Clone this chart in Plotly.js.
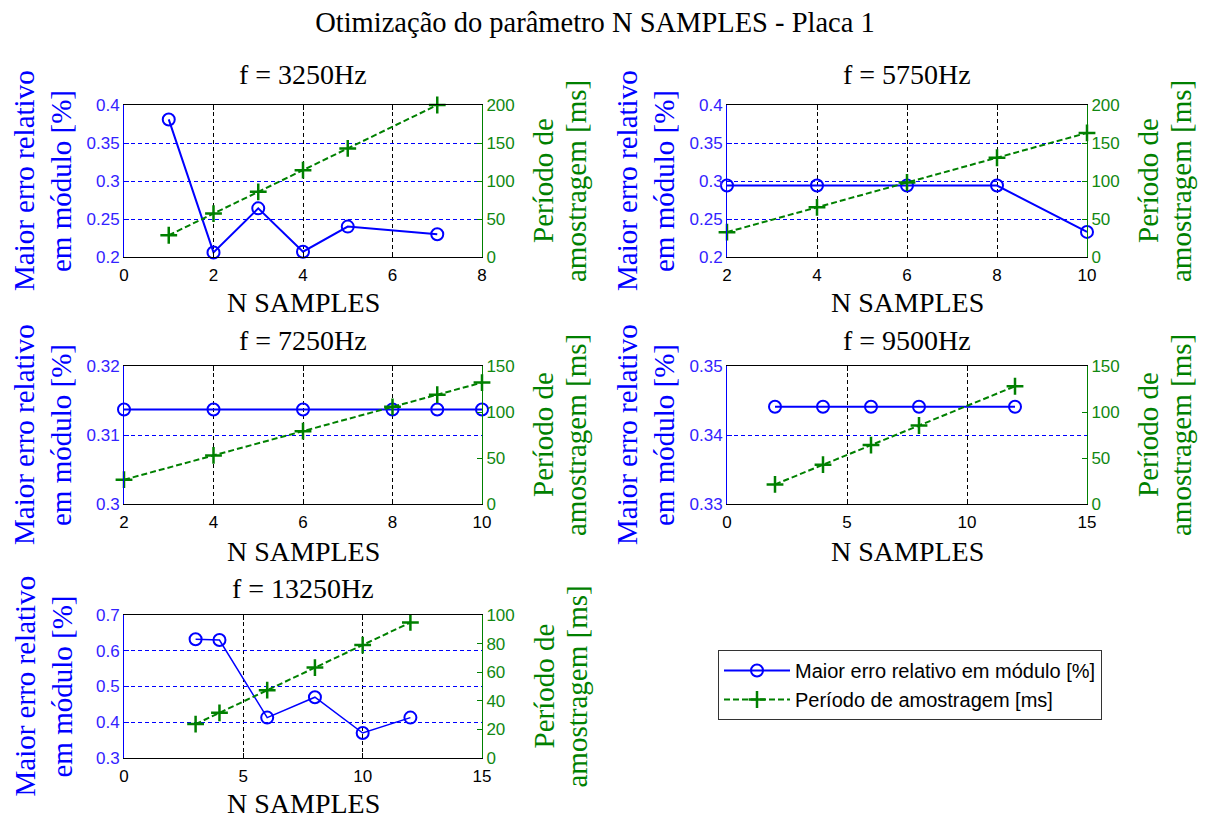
<!DOCTYPE html>
<html>
<head>
<meta charset="utf-8">
<script src="https://cdn.plot.ly/plotly-3.0.1.min.js"></script>
<style>html,body{margin:0;padding:0;background:#fff;}#chart{width:1205px;height:818px;}</style>
</head>
<body>
<div id="chart"></div>
<script>
// ---------- DATA ----------
const mainTitle = 'Otimização do parâmetro N SAMPLES - Placa 1';
const xTitle = 'N SAMPLES';
const errName = 'Maior erro relativo em módulo [%]';
const perName = 'Período de amostragem [ms]';
const errAxisLines = ['Maior erro relativo', 'em módulo [%]'];
const perAxisLines = ['Período de', 'amostragem [ms]'];

const titles = ['f = 3250Hz', 'f = 5750Hz', 'f = 7250Hz', 'f = 9500Hz', 'f = 13250Hz'];

const n1 = [1, 2, 3, 4, 5, 7];
const err1 = [0.381, 0.206, 0.264, 0.207, 0.240, 0.230];
const per1 = [28.6, 57.1, 85.7, 114.3, 142.9, 200];

const n2 = [2, 4, 6, 8, 10];
const err2 = [0.294, 0.294, 0.294, 0.294, 0.233];
const per2 = [32.7, 65.3, 98, 130.6, 163.3];

const n3 = [2, 4, 6, 8, 9, 10];
const err3 = [0.3137, 0.3137, 0.3137, 0.3137, 0.3137, 0.3137];
const per3 = [26.4, 52.8, 79.2, 105.6, 118.8, 132];

const n4 = [2, 4, 6, 8, 12];
const err4 = [0.3441, 0.3441, 0.3441, 0.3441, 0.3441];
const per4 = [21.3, 42.7, 64, 85.3, 128];

const n5 = [3, 4, 6, 8, 10, 12];
const err5 = [0.632, 0.630, 0.413, 0.470, 0.370, 0.413];
const per5 = [23.7, 31.6, 47.4, 63.2, 79, 94.8];

// axis ranges / tick steps
const xRanges = [[0, 8], [2, 10], [2, 10], [0, 15], [0, 15]];
const xSteps = [2, 2, 2, 5, 5];
const errRanges = [[0.2, 0.4], [0.2, 0.4], [0.3, 0.32], [0.33, 0.35], [0.3, 0.7]];
const errSteps = [0.05, 0.05, 0.01, 0.01, 0.1];
const perRanges = [[0, 200], [0, 200], [0, 150], [0, 150], [0, 100]];
const perSteps = [50, 50, 50, 50, 20];

// ---------- LAYOUT (pixel boxes of plot areas) ----------
const W = 1205, H = 818;
const boxes = [
  {l: 124, r: 482, t: 105, b: 257, titleY: 75, xtY: 302},
  {l: 727, r: 1087, t: 105, b: 257, titleY: 75, xtY: 302},
  {l: 124, r: 482, t: 366, b: 504, titleY: 340, xtY: 551},
  {l: 727, r: 1087, t: 366, b: 504, titleY: 340, xtY: 551},
  {l: 124, r: 482, t: 615, b: 758, titleY: 588, xtY: 803}
];
const BLUE = '#0000ff', GREEN = '#008000';
const tickFont = 'Liberation Sans, Arial, sans-serif';
const serif = 'Liberation Serif, Times New Roman, serif';
const TICK = 17;

const series = [[n1, err1, per1], [n2, err2, per2], [n3, err3, per3], [n4, err4, per4], [n5, err5, per5]];

const data = [];
const layout = {
  width: W, height: H,
  margin: {l: 0, r: 0, t: 0, b: 0},
  paper_bgcolor: '#fff', plot_bgcolor: 'rgba(0,0,0,0)',
  showlegend: true,
  title: {text: mainTitle, font: {family: serif, size: 28.5, color: '#000'},
          x: 595 / W, xanchor: 'center', y: 1 - 22 / H, yanchor: 'middle', xref: 'paper', yref: 'paper'},
  legend: {x: 718 / W, y: 1 - 650 / H, xanchor: 'left', yanchor: 'top',
           bordercolor: '#333', borderwidth: 1, bgcolor: '#fff',
           font: {family: tickFont, size: 20, color: '#000'}, itemwidth: 66, traceorder: 'normal'},
  annotations: []
};

function ann(text, xpx, ypx, size, color, angle) {
  return {text: text, xref: 'paper', yref: 'paper', x: xpx / W, y: 1 - ypx / H,
          xanchor: 'center', yanchor: 'middle', showarrow: false, textangle: angle || 0,
          font: {family: serif, size: size, color: color}};
}

for (let i = 0; i < 5; i++) {
  const k = i + 1;
  const xs = k === 1 ? '' : String(k);
  const xa = 'x' + xs, ya = 'y' + xs, yb = 'y' + (k + 5);
  const bx = boxes[i];
  const [nn, ee, pp] = series[i];

  layout['xaxis' + xs] = {
    domain: [bx.l / W, bx.r / W], anchor: ya,
    range: xRanges[i], tick0: 0, dtick: xSteps[i],
    showline: true, linecolor: '#000', linewidth: 1, mirror: 'ticks',
    ticks: 'inside', ticklen: 5, tickcolor: '#000', ticklabelstandoff: 3,
    showgrid: true, gridcolor: '#000', griddash: '4px,3px', gridwidth: 1,
    zeroline: false, tickfont: {family: tickFont, size: TICK, color: '#000'}
  };
  layout['yaxis' + xs] = {
    domain: [1 - bx.b / H, 1 - bx.t / H], anchor: xa,
    range: errRanges[i], tick0: 0, dtick: errSteps[i],
    showline: true, linecolor: BLUE, linewidth: 1,
    ticks: 'inside', ticklen: 5, tickcolor: BLUE,
    showgrid: true, gridcolor: BLUE, griddash: '4px,3px', gridwidth: 1,
    zeroline: false, tickfont: {family: tickFont, size: TICK, color: '#3322ff'}
  };
  layout['yaxis' + (k + 5)] = {
    overlaying: ya, side: 'right', anchor: xa,
    range: perRanges[i], tick0: 0, dtick: perSteps[i],
    showline: true, linecolor: GREEN, linewidth: 1,
    ticks: 'inside', ticklen: 5, tickcolor: GREEN,
    showgrid: false, zeroline: false,
    tickfont: {family: tickFont, size: TICK, color: '#118811'}
  };

  data.push({
    type: 'scatter', mode: 'lines+markers', x: nn, y: ee, xaxis: xa, yaxis: ya,
    name: errName, showlegend: i === 0, cliponaxis: false,
    line: {color: BLUE, width: i === 4 ? 1.5 : 2},
    marker: {symbol: 'circle-open', size: 12, color: BLUE, line: {color: BLUE, width: 2}}
  });
  data.push({
    type: 'scatter', mode: 'lines+markers', x: nn, y: pp, xaxis: xa, yaxis: yb,
    name: perName, showlegend: i === 0, cliponaxis: false,
    line: {color: GREEN, width: 2, dash: '6px,3px'},
    marker: {symbol: 'cross-thin', size: 12, color: GREEN, line: {color: GREEN, width: 2.5}}
  });

  const cx = (bx.l + bx.r) / 2;
  const cy = (bx.t + bx.b) / 2;
  layout.annotations.push(
    ann(titles[i], cx, bx.titleY, 28, '#000'),
    ann(xTitle, cx, bx.xtY, 28, '#000'),
    ann(errAxisLines[0], bx.l - 100, cy, 29, BLUE, -90),
    ann(errAxisLines[1], bx.l - 63, cy, 29, BLUE, -90),
    ann(perAxisLines[0], bx.r + 61, cy, 29, GREEN, -90),
    ann(perAxisLines[1], bx.r + 94, cy, 29, GREEN, -90)
  );
}

Plotly.newPlot('chart', data, layout, {staticPlot: true, displayModeBar: false});
</script>
</body>
</html>
